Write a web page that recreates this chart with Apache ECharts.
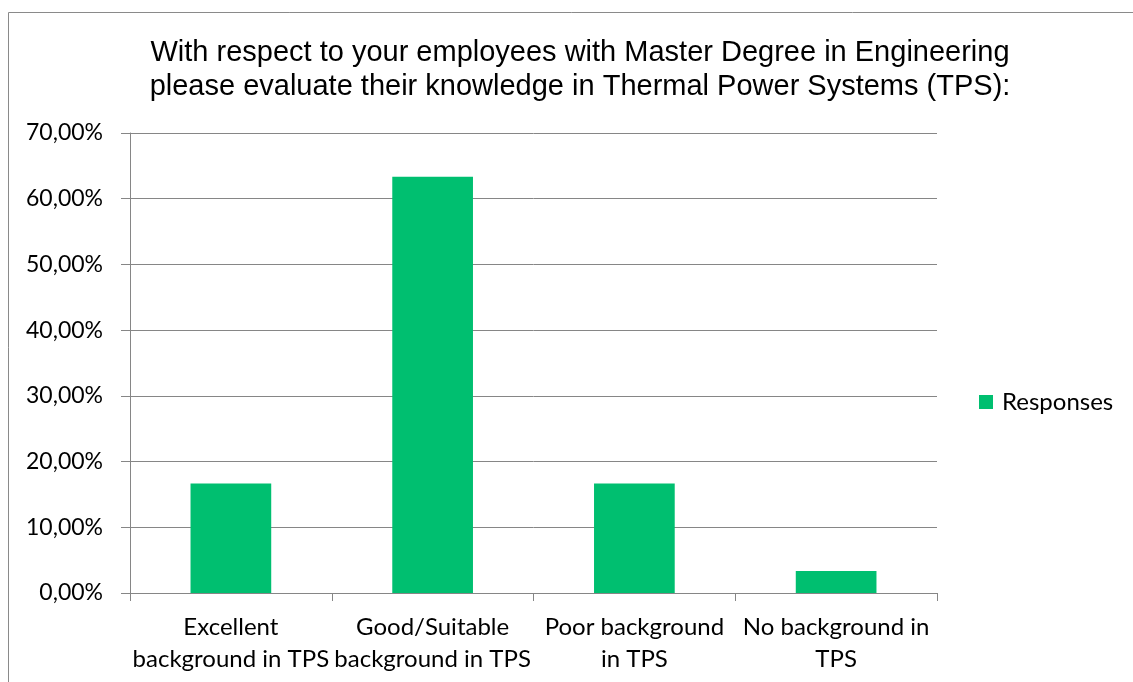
<!DOCTYPE html>
<html>
<head>
<meta charset="utf-8">
<script src="https://cdn.jsdelivr.net/npm/echarts@6/dist/echarts.min.js"></script>
<style>
html,body{margin:0;padding:0;background:#fff;}
#c{width:1133px;height:682px;}
</style>
</head>
<body>
<div id="c"></div>
<script>
const titleText = 'With respect to your employees with Master Degree in Engineering\nplease evaluate their knowledge in Thermal Power Systems (TPS):';
const categories = ['Excellent\nbackground in TPS', 'Good/Suitable\nbackground in TPS', 'Poor background\nin TPS', 'No background in\nTPS'];
const seriesName = 'Responses';
const values = [16.67, 63.33, 16.67, 3.33];
const yMin = 0, yMax = 70, yStep = 10;

const chart = echarts.init(document.getElementById('c'));
const axisFont = 'Lato, "Open Sans", sans-serif';
chart.setOption({
  animation: false,
  backgroundColor: '#fff',
  graphic: [{
    type: 'rect', silent: true,
    shape: {x: 8.5, y: 12.5, width: 1300, height: 900},
    style: {fill: 'none', stroke: '#8a8a8a', lineWidth: 1}
  }],
  title: {
    text: titleText,
    left: 575, top: 31, textAlign: 'center',
    textStyle: {fontFamily: '"Liberation Sans", Arial, sans-serif', fontSize: 29, fontWeight: 'normal', color: '#000', lineHeight: 34}
  },
  legend: {
    data: [seriesName],
    left: 974, top: 385,
    itemWidth: 14, itemHeight: 14,
    icon: 'rect',
    textStyle: {fontFamily: axisFont, fontSize: 24, color: '#000', padding: [0, 0, 0, 4]}
  },
  grid: {left: 130, right: 196, top: 133, bottom: 89, containLabel: false},
  xAxis: {
    type: 'category',
    data: categories,
    axisLine: {lineStyle: {color: '#868686', width: 1}},
    axisTick: {show: true, length: 8, lineStyle: {color: '#868686'}},
    axisLabel: {fontFamily: axisFont, fontSize: 24, color: '#000', lineHeight: 32, margin: 18, interval: 0}
  },
  yAxis: {
    type: 'value',
    min: yMin, max: yMax, interval: yStep,
    axisLine: {show: true, lineStyle: {color: '#868686', width: 1}},
    axisTick: {show: true, length: 9, lineStyle: {color: '#868686'}},
    splitLine: {show: true, lineStyle: {color: '#868686', width: 1}},
    axisLabel: {
      fontFamily: axisFont, fontSize: 23, color: '#000', margin: 27,
      formatter: v => v.toFixed(2).replace('.', ',') + '%'
    }
  },
  series: [{
    name: seriesName,
    type: 'bar',
    data: values,
    barWidth: '40%',
    itemStyle: {color: '#00BF70'}
  }]
});
</script>
</body>
</html>
